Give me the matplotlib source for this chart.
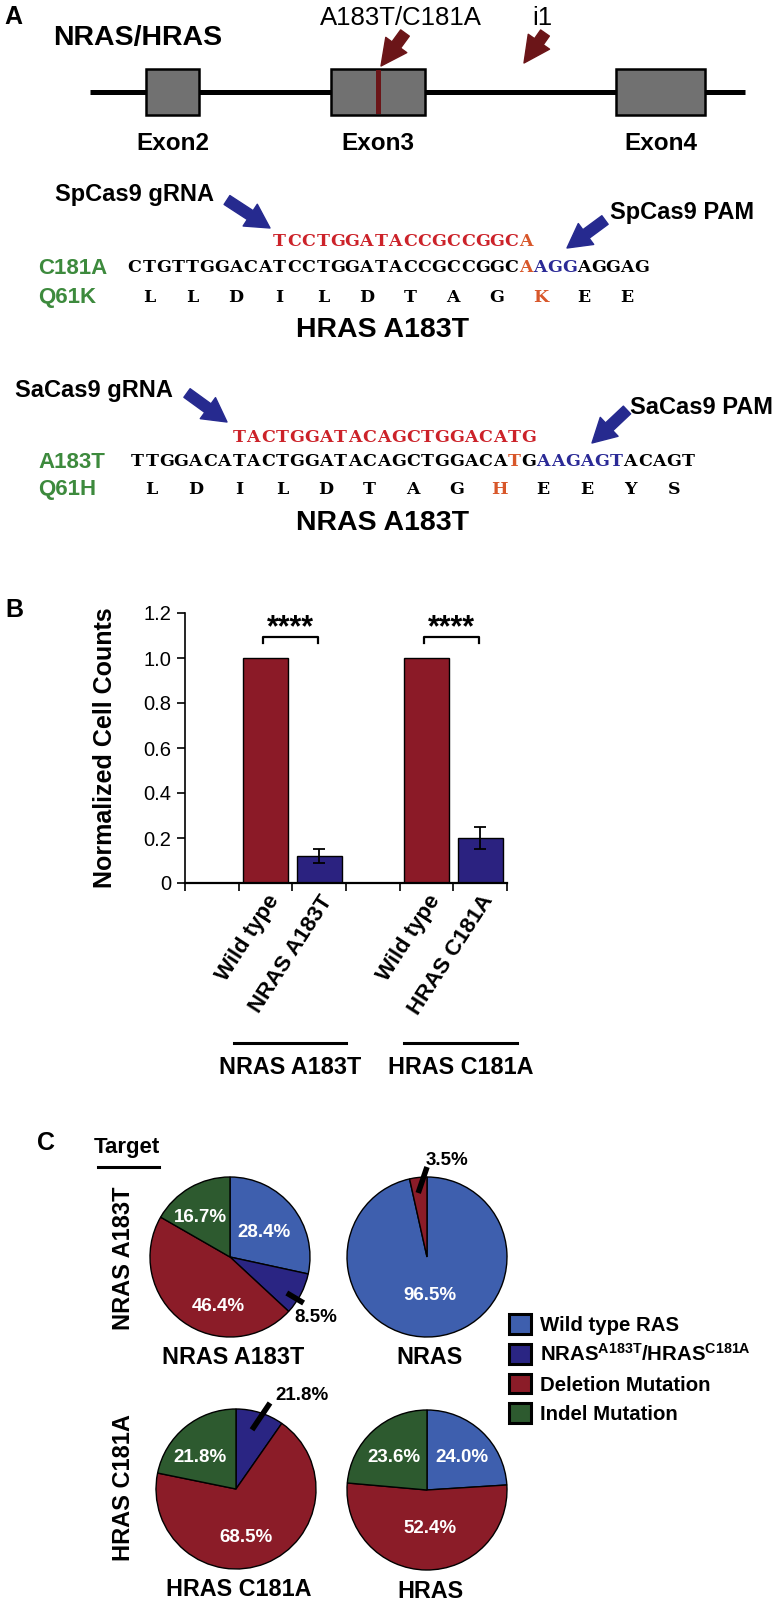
import numpy as np
import matplotlib
matplotlib.use('Agg')
import matplotlib.pyplot as plt
from matplotlib import font_manager
from matplotlib.patches import Rectangle, FancyArrowPatch, Patch

W, H = 774, 1604
plt.rcParams['font.family'] = ['Liberation Sans', 'DejaVu Sans']
plt.rcParams['mathtext.fontset'] = 'custom'

# condensed labels: use the narrow face when it is installed
HAS_NARROW = any(f.name == 'Liberation Sans Narrow' for f in font_manager.fontManager.ttflist)
if HAS_NARROW:
    NARROW = ['Liberation Sans Narrow', 'Liberation Sans', 'DejaVu Sans']
    NARROW_SCALE = 1.0
else:
    NARROW = ['Liberation Sans', 'DejaVu Sans']
    NARROW_SCALE = 0.84
plt.rcParams['mathtext.rm'] = NARROW[0]
plt.rcParams['mathtext.bf'] = NARROW[0] + ':bold'

# ---------------- data ----------------
exon_names = ['Exon2', 'Exon3', 'Exon4']
site_labels = ['A183T/C181A', 'i1']

hras_seq = 'CTGTTGGACATCCTGGATACCGCCGGCAAGGAGGAG'
hras_grna = 'TCCTGGATACCGCCGGCA'
hras_aa = 'LLDILDTAGKEE'
nras_seq = 'TTGGACATACTGGATACAGCTGGACATGAAGAGTACAGT'
nras_grna = 'TACTGGATACAGCTGGACATG'
nras_aa = 'LDILDTAGHEEYS'

bar_labels = ['Wild type', 'NRAS A183T', 'Wild type', 'HRAS C181A']
bar_values = [1.0, 0.12, 1.0, 0.20]
bar_errors = [0.0, 0.03, 0.0, 0.05]
groups = ['NRAS A183T', 'HRAS C181A']
sig_labels = ['****', '****']

pie_categories = ['Wild type RAS',
                  r'NRAS$^{\mathbf{A183T}}$/HRAS$^{\mathbf{C181A}}$',
                  'Deletion Mutation', 'Indel Mutation']
row_labels = ['NRAS A183T', 'HRAS C181A']
pie_titles = ['NRAS A183T', 'NRAS', 'HRAS C181A', 'HRAS']
pie_values = [
    [28.4, 8.5, 46.4, 16.7],
    [96.5, 0.0, 3.5, 0.0],
    [0.0, 9.7, 68.5, 21.8],
    [24.0, 0.0, 52.4, 23.6],
]
pie_texts = [
    ['28.4%', '8.5%', '46.4%', '16.7%'],
    ['96.5%', '', '3.5%', ''],
    ['', '21.8%', '68.5%', '21.8%'],
    ['24.0%', '', '52.4%', '23.6%'],
]

# ---------------- styles / layout ----------------
RED_BAR, NAVY_BAR = '#8b1a27', '#2b2280'
PIE_COLORS = ['#3e5fae', '#2a2583', '#8b1c28', '#2d5a2f']
SEQ_RED, SEQ_ORANGE, SEQ_BLUE, SEQ_GREEN = '#cc2229', '#d8572a', '#2b2a96', '#3d8a3d'
ARROW_BLUE, ARROW_DARK = '#262a8f', '#6b1518'
SEQ_FONT = 'DejaVu Serif'
SEQ_SIZE = 12.5


def px_rect(x0, y0, x1, y1):
    return [x0 / W, 1 - y1 / H, (x1 - x0) / W, (y1 - y0) / H]


fig = plt.figure(figsize=(W / 100, H / 100), dpi=100)

# ---------------- panel B: bar chart ----------------
axb = fig.add_axes(px_rect(185, 613, 507, 883))
xpos = [1, 2, 4, 5]
bar_cols = [RED_BAR, NAVY_BAR, RED_BAR, NAVY_BAR]
axb.bar(xpos, bar_values, width=0.84, color=bar_cols, edgecolor='black', linewidth=1)
for xp, v, e in zip(xpos, bar_values, bar_errors):
    if e > 0:
        axb.errorbar(xp, v, yerr=e, fmt='none', ecolor='black', capsize=4,
                     elinewidth=1.3, capthick=1.3)
axb.set_xlim(-0.5, 5.5)
axb.set_ylim(0, 1.2)
axb.spines['top'].set_visible(False)
axb.spines['right'].set_visible(False)
axb.spines['bottom'].set_linewidth(1.6)
axb.spines['left'].set_linewidth(1.2)
yt = [0, 0.2, 0.4, 0.6, 0.8, 1.0, 1.2]
axb.set_yticks(yt)
axb.set_yticklabels(['0', '0.2', '0.4', '0.6', '0.8', '1.0', '1.2'], fontsize=14.5)
axb.tick_params(axis='y', length=6, width=1.2, pad=4)
axb.set_xticks(xpos)
axb.set_xticklabels(bar_labels, fontsize=16, fontweight='bold', rotation=57,
                    ha='right', va='top', rotation_mode='anchor')
axb.set_xticks(np.arange(-0.5, 6.0, 1.0), minor=True)
axb.tick_params(axis='x', which='major', length=0, pad=6)
axb.tick_params(axis='x', which='minor', length=6, width=1.2, direction='out')
axb.set_ylabel('Normalized Cell Counts', fontsize=18, fontweight='bold')
axb.yaxis.set_label_coords(-0.21, 0.5)

for k, lab in enumerate(sig_labels):
    xa, xb = xpos[2 * k] - 0.05, xpos[2 * k + 1] - 0.03
    axb.plot([xa, xa, xb, xb], [1.067, 1.093, 1.093, 1.067], color='black', lw=1.6,
             clip_on=False)
    axb.text((xa + xb) / 2, 1.13, lab, ha='center', va='center', fontsize=22,
             fontweight='bold', clip_on=False)

# ---------------- panel C: pies ----------------
R = 80
pie_centers = [(230, 1257), (427, 1257), (236, 1489), (427, 1490)]
pie_label_pos = [
    [(0.42, 0.31), (1.07, -0.76), (-0.15, -0.62), (-0.37, 0.50)],
    [(0.04, -0.48), None, (0.25, 1.21), None],
    [None, (0.82, 1.17), (0.12, -0.60), (-0.45, 0.40)],
    [(0.44, 0.41), None, (0.04, -0.48), (-0.41, 0.41)],
]
outside = {(0, 1): [(0.71, -0.45), (0.92, -0.575)],
           (1, 2): [(-0.11, 0.80), (0.0, 1.125)],
           (2, 1): [(0.20, 0.74), (0.425, 1.075)]}

for p, (cx, cy) in enumerate(pie_centers):
    axp = fig.add_axes(px_rect(cx - 1.1 * R, cy - 1.1 * R, cx + 1.1 * R, cy + 1.1 * R))
    vals = [v for v in pie_values[p] if v > 0]
    cols = [c for v, c in zip(pie_values[p], PIE_COLORS) if v > 0]
    axp.pie(vals, colors=cols, startangle=90, counterclock=False, radius=1,
            wedgeprops=dict(edgecolor='black', linewidth=1))
    axp.set_xlim(-1.1, 1.1)
    axp.set_ylim(-1.1, 1.1)
    for c, txt in enumerate(pie_texts[p]):
        if not txt:
            continue
        tx, ty = pie_label_pos[p][c]
        if (p, c) in outside:
            (x1, y1), (x2, y2) = outside[(p, c)]
            axp.plot([x1, x2], [y1, y2], color='black', lw=4, clip_on=False,
                     solid_capstyle='butt')
            axp.text(tx, ty, txt, ha='center', va='center', fontsize=13.5,
                     fontweight='bold', color='black', clip_on=False)
        else:
            axp.text(tx, ty, txt, ha='center', va='center', fontsize=13.5,
                     fontweight='bold', color='white')

# ---------------- overlay (panel A + annotations) ----------------
ax0 = fig.add_axes([0, 0, 1, 1])
ax0.set_xlim(0, W)
ax0.set_ylim(H, 0)
ax0.axis('off')

# panel letters
ax0.text(13, 17, 'A', fontsize=18, fontweight='bold', ha='center', va='center')
ax0.text(14, 610, 'B', fontsize=18, fontweight='bold', ha='center', va='center')
ax0.text(46, 1143, 'C', fontsize=18, fontweight='bold', ha='center', va='center')

# gene diagram
ax0.text(53, 38, 'NRAS/HRAS', fontsize=20.5, fontweight='bold', ha='left', va='center')
ax0.plot([90, 745], [92, 92], color='black', lw=3.6, solid_capstyle='butt')
exon_x = [(146, 199), (331, 425), (616, 705)]
for (xa, xb), name in zip(exon_x, exon_names):
    ax0.add_patch(Rectangle((xa, 69), xb - xa, 46, facecolor='#717171',
                            edgecolor='black', lw=1.8, zorder=3))
    ax0.text((xa + xb) / 2, 143, name, fontsize=17.5, fontweight='bold',
             ha='center', va='center')
ax0.add_patch(Rectangle((376, 70), 5, 44, facecolor=ARROW_DARK, edgecolor='none',
                        zorder=4))
site_text_x = [401, 542]
site_arrows = [((405, 33), (381, 66)), ((545, 33), (524, 63))]
for lab, tx, (pa, pb) in zip(site_labels, site_text_x, site_arrows):
    ax0.text(tx, 18, lab, fontsize=18.5, ha='center', va='center')
    ax0.add_patch(FancyArrowPatch(pa, pb, arrowstyle='simple,head_length=1.1,head_width=1.1,tail_width=0.45',
                                  mutation_scale=17, color=ARROW_DARK, shrinkA=0, shrinkB=0))


def draw_seq(seq, x0, y, step, colors):
    for i, ch in enumerate(seq):
        ax0.text(x0 + (i + 0.5) * step, y, ch, ha='center', va='center',
                 family=SEQ_FONT, fontweight='bold', fontsize=SEQ_SIZE, color=colors[i])


def seg_colors(n, segments, default='black'):
    cols = [default] * n
    for a, b, c in segments:
        for i in range(a, b):
            cols[i] = c
    return cols


STEP = 14.5
blocks = [
    dict(seq=hras_seq, grna=hras_grna, aa=hras_aa, x0=127, g_off=10,
         seq_seg=[(27, 28, SEQ_ORANGE), (28, 31, SEQ_BLUE)],
         grna_seg=[(17, 18, SEQ_ORANGE)], aa_hl=9,
         y=(242, 268, 297, 330), mut='C181A', prot='Q61K', title='HRAS A183T',
         g_label=('SpCas9 gRNA', 55, 195), p_label=('SpCas9 PAM', 610, 212),
         arrows=[((227, 200), (270, 228)), ((605, 220), (567, 248))]),
    dict(seq=nras_seq, grna=nras_grna, aa=nras_aa, x0=130, g_off=7,
         seq_seg=[(26, 27, SEQ_ORANGE), (28, 34, SEQ_BLUE)],
         grna_seg=[], aa_hl=8,
         y=(437, 462, 490, 523), mut='A183T', prot='Q61H', title='NRAS A183T',
         g_label=('SaCas9 gRNA', 15, 390), p_label=('SaCas9 PAM', 630, 407),
         arrows=[((187, 393), (227, 422)), ((627, 410), (592, 443))]),
]
for b in blocks:
    yg, ys, ya, yt_ = b['y']
    draw_seq(b['grna'], b['x0'] + b['g_off'] * STEP, yg, STEP,
             seg_colors(len(b['grna']), b['grna_seg'], SEQ_RED))
    draw_seq(b['seq'], b['x0'], ys, STEP, seg_colors(len(b['seq']), b['seq_seg']))
    aa_cols = ['black'] * len(b['aa'])
    aa_cols[b['aa_hl']] = SEQ_ORANGE
    for i, ch in enumerate(b['aa']):
        ax0.text(b['x0'] + (3 * i + 1.5) * STEP, ya, ch, ha='center', va='center',
                 family=SEQ_FONT, fontweight='bold', fontsize=SEQ_SIZE, color=aa_cols[i])
    ax0.text(38, ys, b['mut'], color=SEQ_GREEN, fontsize=16, fontweight='bold',
             ha='left', va='center')
    ax0.text(38, ya, b['prot'], color=SEQ_GREEN, fontsize=16, fontweight='bold',
             ha='left', va='center')
    ax0.text(382, yt_, b['title'], fontsize=20.5, fontweight='bold', ha='center', va='center')
    for txt, tx, ty in (b['g_label'], b['p_label']):
        ax0.text(tx, ty, txt, fontsize=17, fontweight='bold', ha='left', va='center')
    for pa, pb in b['arrows']:
        ax0.add_patch(FancyArrowPatch(pa, pb, arrowstyle='simple,head_length=1.0,head_width=1.1,tail_width=0.45',
                                      mutation_scale=17, color=ARROW_BLUE, shrinkA=0, shrinkB=0))

# panel B group annotations
group_lines = [(234, 346), (404, 517)]
for (xa, xb), g in zip(group_lines, groups):
    ax0.plot([xa, xb], [1043, 1043], color='black', lw=2.2)
    ax0.text((xa + xb) / 2, 1068, g, fontsize=20 * NARROW_SCALE, fontweight='bold',
             family=NARROW, ha='center', va='center')

# panel C annotations
ax0.text(127, 1148, 'Target', fontsize=16, fontweight='bold', ha='center', va='center')
ax0.plot([98, 159], [1167, 1167], color='black', lw=2.2)
for lab, yc in zip(row_labels, [1258, 1488]):
    ax0.text(123, yc, lab, fontsize=17, fontweight='bold', rotation=90,
             ha='center', va='center')
for (cx, cy), t in zip(pie_centers, pie_titles):
    ax0.text(cx + 3, cy + 101, t, fontsize=20 * NARROW_SCALE, fontweight='bold',
             family=NARROW, ha='center', va='center')

handles = [Patch(facecolor=c, edgecolor='black', linewidth=2.2) for c in PIE_COLORS]
ax0.legend(handles, pie_categories, loc='upper left', bbox_to_anchor=(509, 1314),
           bbox_transform=ax0.transData, frameon=False, borderpad=0, borderaxespad=0,
           prop=dict(family=NARROW, size=17.5 * NARROW_SCALE, weight='bold'),
           handlelength=1.08, handleheight=1.1, handletextpad=0.45, labelspacing=0.42)

fig.savefig('out.png', dpi=100)
